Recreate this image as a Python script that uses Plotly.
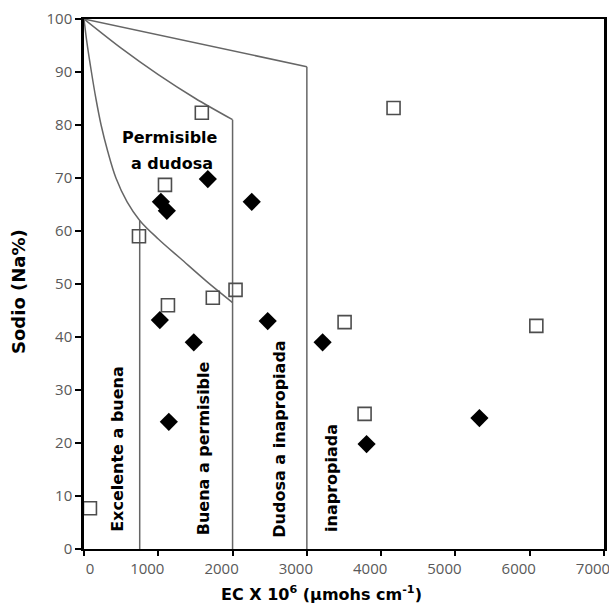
import plotly.graph_objects as go

# --- data ---
sq_x = [80, 740, 1090, 1586, 2040, 1130, 1734, 3508, 4167, 6089, 3777]
sq_y = [7.7, 59, 68.7, 82.3, 48.9, 46, 47.4, 42.8, 83.2, 42.1, 25.5]
dm_x = [1667, 1035, 1115, 2258, 1021, 1478, 1142, 2473, 3212, 3804, 5323]
dm_y = [69.8, 65.5, 63.8, 65.5, 43.2, 39, 24, 43, 39, 19.8, 24.7]

# class boundaries
low_x = [0, 40, 100, 160, 230, 320, 430, 580, 750, 1000, 1300, 1650, 2000]
low_y = [100, 95.5, 90, 85, 80, 75, 70, 65.5, 62, 58.5, 54.8, 50.5, 46.5]
mid_x = [0, 500, 1000, 1500, 2000]
mid_y = [100, 94.5, 89.5, 85, 81]
top_x = [0, 3000]
top_y = [100, 91]
v1_x = [750, 750]; v1_y = [0, 62]
v2_x = [2000, 2000]; v2_y = [0, 81]
v3_x = [3000, 3000]; v3_y = [0, 91]

x_ticks = [0, 1000, 2000, 3000, 4000, 5000, 6000, 7000]
x_ticktext = ["\u2007\u2007\u2007\u20070", "1000", "2000", "3000", "4000", "5000", "6000", "7000"]
y_ticks = [0, 10, 20, 30, 40, 50, 60, 70, 80, 90, 100]

LC = "#666666"
fig = go.Figure()
fig.add_trace(go.Scatter(x=low_x, y=low_y, mode="lines", line=dict(color=LC, width=1.5, shape="spline", smoothing=1.0), hoverinfo="skip"))
fig.add_trace(go.Scatter(x=mid_x, y=mid_y, mode="lines", line=dict(color=LC, width=1.5, shape="spline", smoothing=0.8), hoverinfo="skip"))
for xs, ys in [(top_x, top_y), (v1_x, v1_y), (v2_x, v2_y), (v3_x, v3_y)]:
    fig.add_trace(go.Scatter(x=xs, y=ys, mode="lines", line=dict(color=LC, width=1.5), hoverinfo="skip"))

fig.add_trace(go.Scatter(x=sq_x, y=sq_y, mode="markers", cliponaxis=False,
                         marker=dict(symbol="square-open", size=13, color="#4d4d4d", line=dict(width=1.6, color="#4d4d4d"))))
fig.add_trace(go.Scatter(x=dm_x, y=dm_y, mode="markers", cliponaxis=False,
                         marker=dict(symbol="diamond", size=14, color="black")))

LF = dict(family="DejaVu Sans", size=16, color="black")
ann = [
    dict(x=1157, y=77.7, text="<b>Permisible</b>", textangle=0),
    dict(x=1184, y=72.8, text="<b>a dudosa</b>", textangle=0),
    dict(x=458, y=18.9, text="<b>Excelente a buena</b>", textangle=-90),
    dict(x=1602, y=19.0, text="<b>Buena a permisible</b>", textangle=-90),
    dict(x=2638, y=20.8, text="<b>Dudosa a inapropiada</b>", textangle=-90),
    dict(x=3338, y=13.4, text="<b>inapropiada</b>", textangle=-90),
]
for a in ann:
    fig.add_annotation(xref="x", yref="y", showarrow=False, font=LF,
                       xanchor="center", yanchor="middle", **a)

fig.add_annotation(xref="paper", yref="paper", x=(321 - 84) / 520, y=-(593 - 549) / 530,
                   text="<b>EC X 10<sup>6</sup> (µmohs cm<sup>-1</sup>)</b>", showarrow=False,
                   font=dict(family="DejaVu Sans", size=16, color="black"), xanchor="center", yanchor="middle")
fig.add_annotation(xref="paper", yref="paper", x=-(84 - 18) / 520, y=(549 - 292) / 530,
                   text="<b>Sodio (Na%)</b>", textangle=-90, showarrow=False,
                   font=dict(family="DejaVu Sans", size=18, color="black"), xanchor="center", yanchor="middle")

TF = dict(family="Open Sans", size=15, color="#595959")
fig.update_xaxes(range=[0, 7000], tickvals=x_ticks, ticktext=x_ticktext, showgrid=False, zeroline=False,
                 showline=True, linecolor="black", linewidth=2, mirror=True,
                 ticks="outside", ticklen=5, tickcolor="black", tickwidth=1.5, tickfont=TF,
                 ticklabelshift=-11, ticklabeloverflow="allow", automargin=False)
fig.update_yaxes(range=[0, 100], tickvals=y_ticks, showgrid=False, zeroline=False,
                 showline=True, linecolor="black", linewidth=2.5, mirror=True,
                 ticks="outside", ticklen=6, tickcolor="black", tickwidth=1.5, tickfont=TF,
                 automargin=False)
fig.update_layout(width=609, height=606, showlegend=False,
                  plot_bgcolor="white", paper_bgcolor="white",
                  margin=dict(l=84, r=5, t=19, b=57))
fig.write_html("out.html")
